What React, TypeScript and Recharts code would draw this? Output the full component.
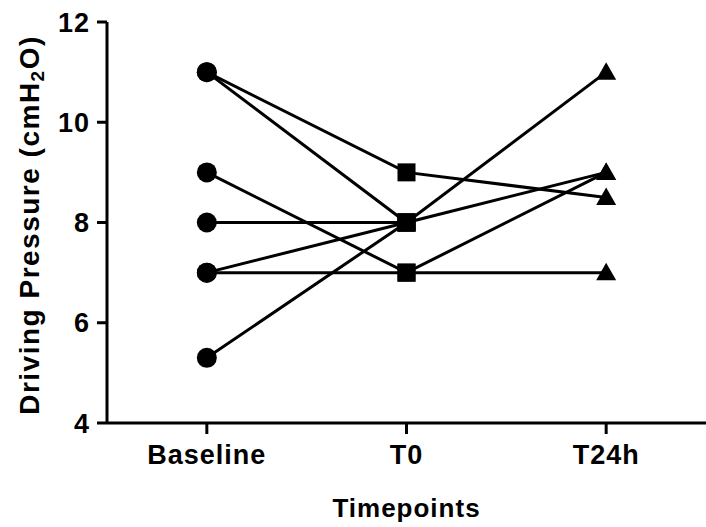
import React from 'react';
import { LineChart, Line, XAxis, YAxis } from 'recharts';

const timepoints = ['Baseline', 'T0', 'T24h'];
const subject1 = [11, 9, 8.5];
const subject2 = [11, 8, 9];
const subject3 = [9, 7, 9];
const subject4 = [8, 8, null];
const subject5 = [7, 8, null];
const subject6 = [7, 7, 7];
const subject7 = [5.3, 8, 11];
const yTicks = [4, 6, 8, 10, 12];

const subjects = [subject1, subject2, subject3, subject4, subject5, subject6, subject7];
const data = timepoints.map((t, i) => {
  const row: any = { x: i, name: t };
  subjects.forEach((s, k) => {
    row['p' + (k + 1)] = s[i];
  });
  return row;
});

const font = 'Liberation Sans, Arial, sans-serif';

const Marker = (props: any) => {
  const { cx, cy, index, value } = props;
  if (cx == null || cy == null || value == null || isNaN(cy)) return <g key={'e' + index} />;
  if (index === 0) return <circle key={'c' + index} cx={cx} cy={cy} r={10} fill="#000" />;
  if (index === 1) return <rect key={'r' + index} x={cx - 9} y={cy - 9} width={18} height={18} fill="#000" />;
  const s = 10;
  return (
    <polygon
      key={'t' + index}
      points={`${cx},${cy - s} ${cx - s},${cy + s * 0.75} ${cx + s},${cy + s * 0.75}`}
      fill="#000"
    />
  );
};

const YLabel = () => (
  <text
    x={0}
    y={0}
    transform="translate(39,225) rotate(-90)"
    textAnchor="middle"
    fontFamily={font}
    fontWeight="bold"
    fontSize={28}
    letterSpacing={1.5}
    fill="#000"
  >
    Driving Pressure (cmH
    <tspan baselineShift="-25%" fontSize={19}>2</tspan>
    <tspan>O)</tspan>
  </text>
);

export default function App() {
  return (
    <div style={{ position: 'absolute', left: 0, top: 0, background: '#fff' }}>
      <LineChart width={706} height={527} data={data} margin={{ top: 22, right: 0, bottom: 0, left: 0 }}>
        <XAxis
          dataKey="x"
          type="number"
          domain={[-0.5, 2.5]}
          ticks={[0, 1, 2]}
          tickFormatter={(v: number) => timepoints[v]}
          height={104}
          tickSize={11}
          tickMargin={11}
          stroke="#000"
          strokeWidth={3}
          tick={{ fill: '#000', fontSize: 27, fontWeight: 'bold', fontFamily: font, letterSpacing: 1 }}
          label={{ value: 'Timepoints', position: 'insideBottom', offset: 10, fill: '#000', fontSize: 26, fontWeight: 'bold', fontFamily: font, letterSpacing: 1 }}
        />
        <YAxis
          type="number"
          domain={[4, 12]}
          ticks={yTicks}
          width={107}
          tickSize={10}
          tickMargin={7}
          stroke="#000"
          strokeWidth={3}
          tick={{ fill: '#000', fontSize: 27, fontWeight: 'bold', fontFamily: font, letterSpacing: 1 }}
          label={<YLabel />}
        />
        {subjects.map((_, k) => (
          <Line
            key={k}
            dataKey={'p' + (k + 1)}
            stroke="#000"
            strokeWidth={3}
            dot={Marker}
            activeDot={false}
            isAnimationActive={false}
            connectNulls={false}
          />
        ))}
      </LineChart>
    </div>
  );
}
